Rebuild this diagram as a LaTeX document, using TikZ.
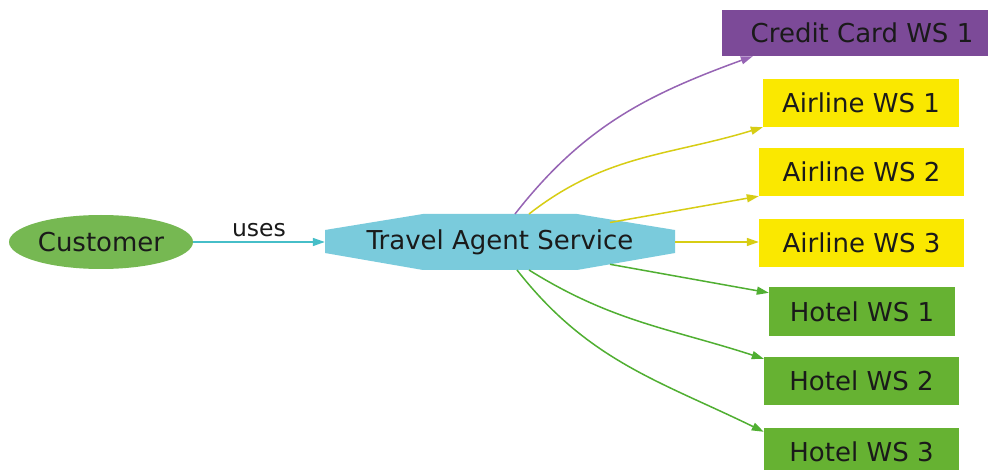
\documentclass[tikz,border=0pt]{standalone}
\usepackage{fontspec}
\setmainfont{DejaVu Sans}
\usetikzlibrary{arrows.meta,shapes.geometric,backgrounds}
\definecolor{custgreen}{HTML}{76B852}
\definecolor{hotgreen}{HTML}{66B232}
\definecolor{ylw}{HTML}{FAE800}
\definecolor{purp}{HTML}{7C4A98}
\definecolor{tascol}{HTML}{7ACBDC}
\definecolor{ecyan}{HTML}{46BEC8}
\definecolor{epurp}{HTML}{9664B4}
\definecolor{eylw}{HTML}{D7CD14}
\definecolor{egreen}{HTML}{50AF32}
\definecolor{txt}{HTML}{1A1A1A}
\begin{document}
\begin{tikzpicture}[x=1pt,y=1pt,
  lbl/.style={font=\fontsize{26}{30}\selectfont, text=txt},
  wsbox/.style={lbl, rectangle, inner sep=0pt, minimum height=48pt},
  conn/.style={line width=1.5pt, -{Triangle[length=12pt,width=8pt]}}]
\useasboundingbox (0,0) rectangle (988,-470);

\node[lbl, ellipse, fill=custgreen, inner sep=0pt, minimum width=184pt, minimum height=54pt] (cust) at (101,-242) {Customer};
\node[lbl, rectangle, inner sep=0pt, minimum width=350pt, minimum height=56pt] (tas) at (500,-242) {Travel Agent Service};
\begin{scope}[on background layer]
\fill[white] (0,0) rectangle (988,-470);
\fill[tascol, shift={(tas.center)}] (-175,12) -- (-77,28) -- (77,28) -- (175,12) -- (175,-11) -- (77,-28) -- (-77,-28) -- (-175,-11) -- cycle;
\end{scope}

\node[wsbox, fill=purp, minimum width=280pt, minimum height=46pt] (cc) at (862,-33) {Credit Card WS 1};
\node[wsbox, fill=ylw, minimum width=196pt] (al1) at (861,-103) {Airline WS 1};
\node[wsbox, fill=ylw, minimum width=205pt] (al2) at (861.5,-172) {Airline WS 2};
\node[wsbox, fill=ylw, minimum width=205pt] (al3) at (861.5,-243) {Airline WS 3};
\node[wsbox, fill=hotgreen, minimum width=186pt, minimum height=49pt] (h1) at (862,-311.5) {Hotel WS 1};
\node[wsbox, fill=hotgreen, minimum width=195pt] (h2) at (861.5,-381) {Hotel WS 2};
\node[wsbox, fill=hotgreen, minimum width=195pt] (h3) at (861.5,-452) {Hotel WS 3};

\draw[conn, ecyan] (cust.east) -- node[above=1pt, font=\fontsize{23.5}{28}\selectfont, text=txt] {uses} (tas.west);

\draw[conn, epurp] ([shift={(15,28)}]tas.center) to[out=52, in=200] ([xshift=31pt]cc.south west);
\draw[conn, eylw] ([shift={(29,28)}]tas.center) to[out=38, in=197] (al1.south west);
\draw[conn, eylw] ([shift={(110,19.5)}]tas.center) -- (al2.south west);
\draw[conn, eylw] (tas.east) -- (tas.east -| al3.west);
\draw[conn, egreen] ([shift={(110,-22.3)}]tas.center) -- ([yshift=-6pt]h1.north west);
\draw[conn, egreen] ([shift={(29,-28)}]tas.center) to[out=-32, in=162] ([yshift=-2pt]h2.north west);
\draw[conn, egreen] ([shift={(17,-28)}]tas.center) to[out=-52, in=154] ([yshift=-4pt]h3.north west);
\end{tikzpicture}
\end{document}
